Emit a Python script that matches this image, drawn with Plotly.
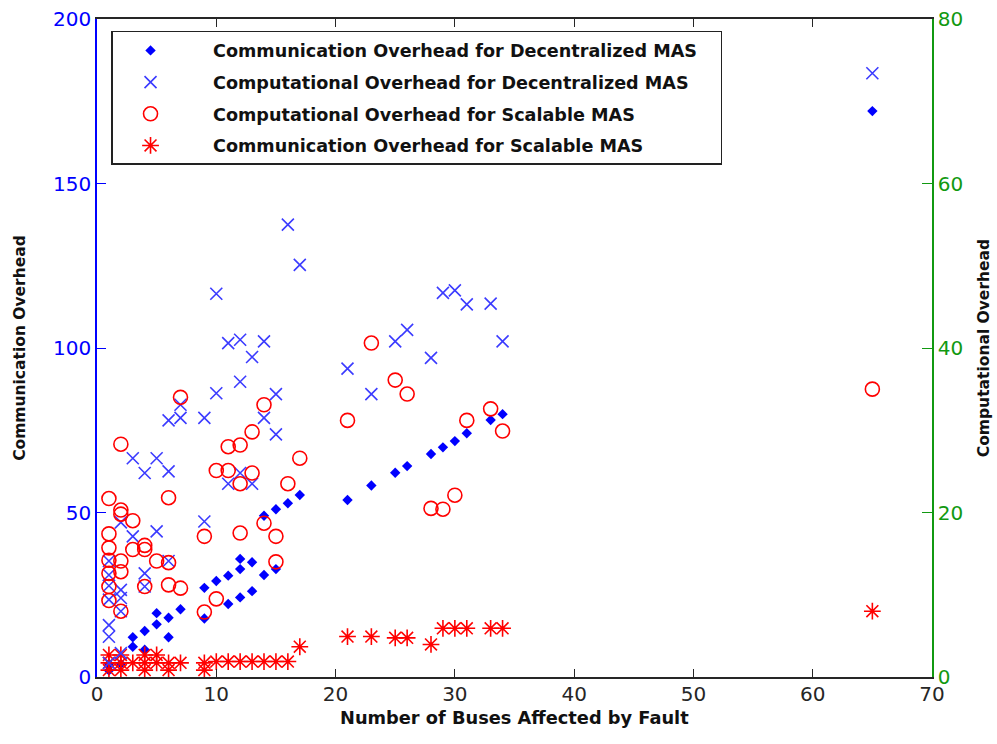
import plotly.graph_objects as go

# Communication overhead, decentralized MAS (left axis)
comm_dec_x = [1, 1, 2, 3, 3, 4, 4, 5, 5, 6, 6, 7, 9, 9, 10, 11, 11, 12, 12, 12,
              13, 13, 14, 14, 15, 15, 16, 17, 21, 23, 25, 26, 28, 29, 30, 31, 33, 34, 65]
comm_dec_y = [2, 4, 4, 12.1, 9.2, 14.0, 8.3, 19.4, 16.0, 18.0, 12.1, 20.6, 27.1, 17.8, 29.2,
              30.8, 22.2, 35.9, 32.8, 24.2, 34.9, 26.1, 49.0, 31.0, 51.0, 32.8, 52.8, 55.3,
              53.8, 58.2, 62.1, 64.1, 67.8, 69.8, 71.7, 74.1, 78.1, 79.9, 172]

# Computational overhead, decentralized MAS (right axis)
comp_dec_x = [1, 1, 1, 1, 1, 1, 1, 2, 2, 2, 2, 2, 3, 3, 4, 4, 4, 5, 5, 6, 6, 6, 7, 7,
              9, 9, 10, 10, 11, 11, 12, 12, 12, 13, 13, 14, 14, 15, 15, 16, 17, 21, 23,
              25, 26, 28, 29, 30, 31, 33, 34, 65]
comp_dec_y = [14.1, 12.4, 11.1, 9.4, 6.3, 4.9, 1.7, 18.8, 10.6, 9.6, 8.0, 2.9, 26.6, 17.1,
              24.8, 12.6, 11.0, 26.6, 17.7, 31.2, 25.0, 14.1, 33.1, 31.5, 31.5, 18.9,
              46.6, 34.5, 40.6, 23.5, 41.0, 35.9, 24.8, 38.9, 23.5, 40.8, 31.5, 34.4,
              29.5, 55.0, 50.1, 37.5, 34.4, 40.8, 42.2, 38.8, 46.7, 47.0, 45.3, 45.4,
              40.8, 73.4]

# Computational overhead, scalable MAS (right axis)
comp_sca_x = [1, 1, 1, 1, 1, 1, 1, 2, 2, 2, 2, 2, 2, 3, 3, 4, 4, 4, 5, 6, 6, 6, 7, 7,
              9, 9, 10, 10, 11, 11, 12, 12, 12, 13, 13, 14, 14, 15, 15, 16, 17, 21, 23,
              25, 26, 28, 29, 30, 31, 33, 34, 65]
comp_sca_y = [21.7, 17.4, 15.7, 14.2, 12.6, 11.0, 9.3, 28.3, 20.3, 19.8, 14.1, 12.8, 8.0,
              19.0, 15.5, 16.0, 15.5, 11.0, 14.1, 21.8, 13.9, 11.2, 34.0, 10.8, 17.1, 7.9,
              25.1, 9.5, 28.0, 25.1, 28.2, 23.5, 17.5, 29.8, 24.8, 33.1, 18.7, 17.1, 14.0,
              23.5, 26.6, 31.2, 40.6, 36.1, 34.4, 20.5, 20.4, 22.1, 31.2, 32.6, 29.9, 35.0]

# Communication overhead, scalable MAS (left axis)
comm_sca_x = [1, 1, 1, 2, 2, 2, 3, 4, 4, 4, 5, 5, 6, 6, 7, 9, 9, 10, 11, 12, 13, 14, 15,
              16, 17, 21, 23, 25, 26, 28, 29, 30, 31, 33, 34, 65]
comm_sca_y = [6.7, 4.3, 2.1, 6.7, 4.3, 2.1, 4.3, 6.7, 4.3, 2.1, 6.7, 4.3, 4.3, 2.1, 4.3,
              4.3, 2.1, 4.7, 4.7, 4.7, 4.7, 4.7, 4.7, 4.7, 9.2, 12.3, 12.3, 11.9, 11.9,
              9.9, 14.8, 14.8, 14.8, 14.8, 14.8, 20.0]

series_names = [
    "Communication Overhead for Decentralized MAS",
    "Computational Overhead for Decentralized MAS",
    "Computational Overhead for Scalable MAS",
    "Communication Overhead for Scalable MAS",
]
x_title = "Number of Buses Affected by Fault"
left_title = "Communication Overhead"
right_title = "Computational Overhead"

x_ticks = [0, 10, 20, 30, 40, 50, 60, 70]
left_ticks = [0, 50, 100, 150, 200]
right_ticks = [0, 20, 40, 60, 80]

BLUE = "#0000ff"
RED = "#ff0000"
GREEN = "#119911"
DARK = "#262626"
TICK_FONT = "DejaVu Sans"
LABEL_FONT = "DejaVu Sans"

# non-breaking spaces widen the gap between legend symbol and text
PAD_L = "\u00a0" * 4
PAD_R = "\u00a0" * 3


def legend_label(name):
    return PAD_L + name + PAD_R


fig = go.Figure()

fig.add_trace(go.Scatter(
    x=comm_dec_x, y=comm_dec_y, mode="markers", name=legend_label(series_names[0]),
    legendgroup="a", yaxis="y",
    marker=dict(symbol="diamond", size=8, color=BLUE, line=dict(width=0)),
))
fig.add_trace(go.Scatter(
    x=comp_dec_x, y=comp_dec_y, mode="markers", name=legend_label(series_names[1]),
    legendgroup="b", yaxis="y2",
    marker=dict(symbol="x-thin-open", size=12, color="#3b3bff", line=dict(width=1.6, color="#3b3bff")),
))
fig.add_trace(go.Scatter(
    x=comp_sca_x, y=comp_sca_y, mode="markers", name=legend_label(series_names[2]),
    legendgroup="c", yaxis="y2",
    marker=dict(symbol="circle-open", size=14, color=RED, line=dict(width=1.6, color=RED)),
))
fig.add_trace(go.Scatter(
    x=comm_sca_x, y=comm_sca_y, mode="markers", name=legend_label(series_names[3]),
    legendgroup="d", yaxis="y",
    marker=dict(symbol="asterisk-open", size=14, color=RED, line=dict(width=1.6, color=RED)),
))

fig.update_layout(
    width=997, height=744,
    margin=dict(l=97, r=65, t=19, b=67, autoexpand=False),
    paper_bgcolor="white", plot_bgcolor="white",
    showlegend=True,
    legend=dict(
        x=0.0168, y=0.9818, xanchor="left", yanchor="top",
        bgcolor="white", bordercolor="#222222", borderwidth=1.5,
        font=dict(family=LABEL_FONT, size=17.6, color="#111111", weight="bold"),
        tracegroupgap=5.8, itemwidth=66,
    ),
    xaxis=dict(
        range=[0, 70], tickvals=x_ticks, ticks="inside", ticklen=8,
        tickcolor=DARK, showline=True, linecolor=DARK, linewidth=1.5,
        mirror="ticks", showgrid=False, zeroline=False, ticklabelstandoff=-2,
        tickfont=dict(family=TICK_FONT, size=20, color=DARK),
    ),
    yaxis=dict(
        range=[0, 200], tickvals=left_ticks, ticks="inside", ticklen=9,
        tickcolor=BLUE, showline=True, linecolor=BLUE, linewidth=1.5,
        showgrid=False, zeroline=False,
        tickfont=dict(family=TICK_FONT, size=20, color=BLUE),
        title=dict(text=left_title, standoff=24,
                   font=dict(family=LABEL_FONT, size=15.5, color="#111111", weight="bold")),
    ),
    yaxis2=dict(
        range=[0, 80], tickvals=right_ticks, ticks="inside", ticklen=10,
        tickcolor=GREEN, showline=True, linecolor=GREEN, linewidth=1.5,
        overlaying="y", side="right", showgrid=False, zeroline=False,
        tickfont=dict(family=TICK_FONT, size=20, color=GREEN),
        title=dict(text=right_title, standoff=16,
                   font=dict(family=LABEL_FONT, size=15.5, color="#111111", weight="bold")),
    ),
)

# x-axis title placed just under the tick labels
fig.add_annotation(
    text=x_title, xref="paper", yref="paper", x=0.5, y=-0.0615,
    xanchor="center", yanchor="middle", showarrow=False,
    font=dict(family=LABEL_FONT, size=17.8, color="#111111", weight="bold"),
)

fig.write_html("out.html")
